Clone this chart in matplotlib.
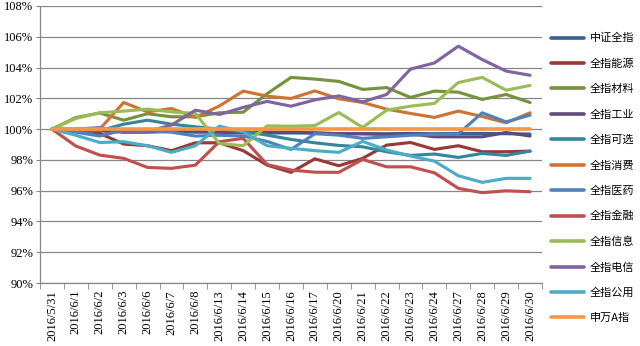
import matplotlib
matplotlib.use("Agg")
import matplotlib.pyplot as plt
import numpy as np

# ── Data (normalised to 2016/5/31 = 100%) ─────────────────
dates = ['2016/5/31', '2016/6/1', '2016/6/2', '2016/6/3', '2016/6/6', '2016/6/7',
         '2016/6/8', '2016/6/13', '2016/6/14', '2016/6/15', '2016/6/16', '2016/6/17',
         '2016/6/20', '2016/6/21', '2016/6/22', '2016/6/23', '2016/6/24', '2016/6/27',
         '2016/6/28', '2016/6/29', '2016/6/30']

csi_all   = [100, 99.95, 99.9, 99.85, 99.85, 99.85, 99.8, 99.8, 99.75, 99.75, 99.75,
             99.75, 99.7, 99.7, 99.7, 99.72, 99.7, 99.72, 99.72, 99.7, 99.68]
energy    = [100, 99.9, 99.72, 99.03, 98.92, 98.6, 99.11, 99.11, 98.6, 97.66, 97.19,
             98.07, 97.62, 98.1, 98.96, 99.13, 98.68, 98.92, 98.53, 98.53, 98.57]
materials = [100, 100.75, 101.05, 100.58, 101.0, 100.8, 100.8, 101.06, 101.1, 102.3, 103.36,
             103.25, 103.1, 102.58, 102.7, 102.06, 102.47, 102.4, 101.93, 102.25, 101.73]
industry  = [100, 99.95, 99.9, 99.8, 99.8, 99.85, 99.9, 99.8, 99.8, 99.8, 99.8,
             99.75, 99.7, 99.7, 99.65, 99.7, 99.5, 99.5, 99.5, 99.78, 99.55]
cons_disc = [100, 99.85, 99.9, 100.32, 100.58, 100.32, 100.15, 100.0, 99.85, 99.61, 99.33,
             99.11, 98.94, 98.85, 98.53, 98.29, 98.38, 98.16, 98.42, 98.29, 98.57]
cons_stap = [100, 100.0, 100.0, 101.73, 101.12, 101.34, 100.76, 101.5, 102.47, 102.14, 101.99,
             102.48, 101.97, 101.73, 101.3, 101.02, 100.76, 101.17, 100.82, 100.41, 101.06]
health    = [100, 99.8, 99.55, 99.94, 99.9, 99.8, 99.55, 99.6, 99.55, 99.2, 98.68,
             99.7, 99.61, 99.4, 99.5, 99.6, 99.65, 99.7, 101.06, 100.47, 100.91]
finance   = [100, 98.9, 98.31, 98.1, 97.51, 97.45, 97.66, 99.18, 99.4, 97.7, 97.34,
             97.2, 97.19, 98.03, 97.55, 97.55, 97.16, 96.15, 95.87, 95.99, 95.93]
info_tech = [100, 100.69, 101.06, 101.17, 101.3, 101.12, 101.02, 99.07, 98.92, 100.21, 100.19,
             100.23, 101.08, 100.11, 101.23, 101.49, 101.67, 103.03, 103.36, 102.53, 102.84]
telecom   = [100, 100.0, 100.1, 99.8, 99.85, 100.26, 101.23, 100.95, 101.41, 101.8, 101.49,
             101.9, 102.16, 101.77, 102.25, 103.9, 104.3, 105.39, 104.52, 103.77, 103.5]
utilities = [100, 99.6, 99.13, 99.18, 98.92, 98.49, 98.92, 100.19, 99.83, 98.92, 98.75,
             98.6, 98.49, 99.2, 98.64, 98.25, 97.92, 96.97, 96.54, 96.8, 96.8]
sw_a      = [100] * 21

names = ['中证全指', '全指能源', '全指材料', '全指工业', '全指可选', '全指消费',
         '全指医药', '全指金融', '全指信息', '全指电信', '全指公用', '申万A指']
series = [csi_all, energy, materials, industry, cons_disc, cons_stap,
          health, finance, info_tech, telecom, utilities, sw_a]
colors = ['#3A6191', '#963A38', '#76923C', '#5F4A7D', '#34879B', '#CD7433',
          '#4F81BD', '#C0504D', '#9BBB59', '#8064A2', '#4BACC6', '#F79646']

# ── Chart ──────────────────────────────────────────────────
fig = plt.figure(figsize=(6.4, 3.46), dpi=100)
ax = fig.add_axes([40/640, 1 - 283/346, 502/640, 277/346])

x = np.arange(len(dates))
for vals, name, col in zip(series, names, colors):
    lw = 2.6 if name == '申万A指' else 2.25
    ax.plot(x, np.array(vals) / 100, color=col, lw=lw, label=name,
            solid_joinstyle='round', solid_capstyle='round')

grid_col = '#868686'
ax.set_ylim(0.90, 1.08)
ax.set_yticks(np.arange(0.90, 1.0801, 0.02))
ax.set_yticklabels([f'{v:.0f}%' for v in np.arange(90, 108.01, 2)],
                   fontfamily='Liberation Serif', fontsize=9)
ax.yaxis.grid(True, color=grid_col, lw=0.9)
ax.set_axisbelow(True)

ax.set_xlim(-0.5, len(dates) - 0.5)
ax.set_xticks(x)
ax.set_xticklabels(dates, rotation=90, fontfamily='Liberation Serif', fontsize=9)
ax.set_xticks(np.arange(-0.5, len(dates), 1), minor=True)
ax.tick_params(axis='x', which='major', length=0, pad=5)
ax.tick_params(axis='x', which='minor', length=4, color=grid_col, direction='out')
ax.tick_params(axis='y', length=3, color=grid_col, pad=2)

for s in ['top', 'right']:
    ax.spines[s].set_visible(False)
for s in ['left', 'bottom']:
    ax.spines[s].set_color(grid_col)
    ax.spines[s].set_linewidth(0.9)

leg = fig.legend(loc='upper left', bbox_to_anchor=(551/640, 1 - 33/346),
                 frameon=False, prop={'family': ['Noto Sans CJK SC', 'DejaVu Sans'], 'size': 8},
                 handlelength=3.0, handletextpad=0.5, labelspacing=1.36,
                 borderaxespad=0, borderpad=0)
for line in leg.get_lines():
    line.set_linewidth(2.6)

fig.savefig('out.png', dpi=100)
